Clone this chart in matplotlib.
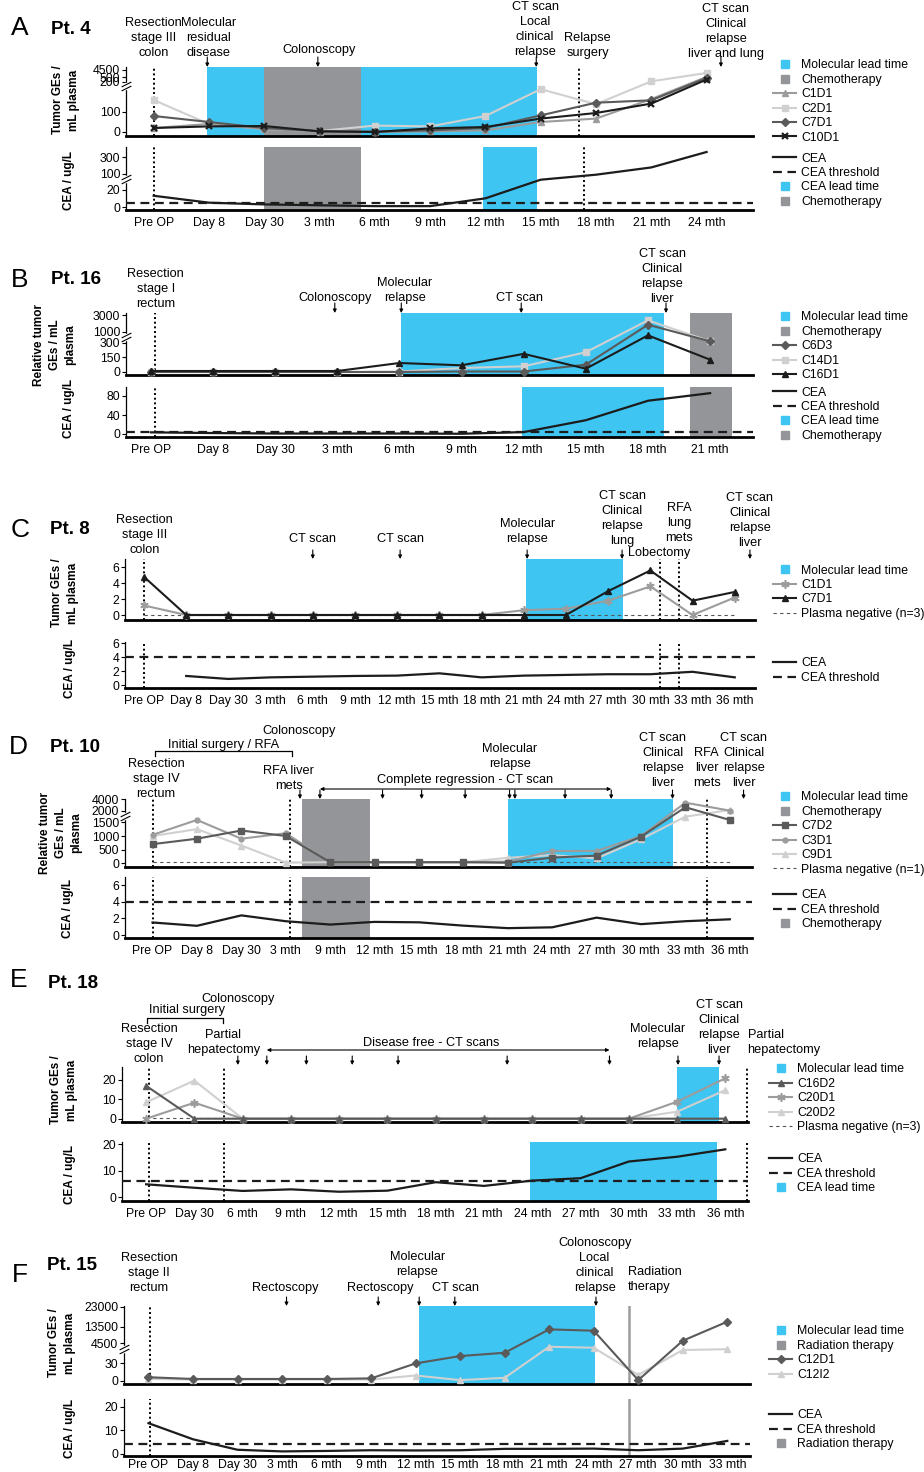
import numpy as np
import matplotlib
matplotlib.use('Agg')
import matplotlib.pyplot as plt
from matplotlib.lines import Line2D
from matplotlib.transforms import blended_transform_factory, Affine2D

W, H = 924, 1472
BLUE = '#3ec5f1'
GREY = '#939598'
K = '#1c1c1c'
DARK = '#5a5a5a'
MID = '#9c9c9c'
LIGHT = '#d0d0d0'

plt.rcParams['font.family'] = ['Liberation Sans', 'DejaVu Sans']
plt.rcParams['font.size'] = 8.8

nan = np.nan

# ---------------- Pt. 4 ----------------
a_labels = ['Pre OP', 'Day 8', 'Day 30', '3 mth', '6 mth', '9 mth', '12 mth',
            '15 mth', '18 mth', '21 mth', '24 mth']
a_c1d1 = [20, 40, 15, 2, 0, 3, 8, 50, 67, 143, 550]
a_c2d1 = [140, 40, 15, 5, 32, 28, 80, 176, 126, 240, 2800]
a_c7d1 = [80, 50, 20, 5, 2, 8, 20, 83, 131, 139, 450]
a_c10d1 = [20, 28, 30, 3, 0, 18, 25, 67, 95, 128, 350]
a_cea = [13, 5, 3, 2, 1, 1, 10, 70, 95, 175, 360]
a_cea_cut = 5
a_mol_lead = [0.97, 6.93]
a_chemo = [1.99, 3.75]
a_cea_lead = [5.96, 6.93]
a_events_top = [0, 7.7]
a_events_bot = [0, 7.79]

# ---------------- Pt. 16 ----------------
b_labels = ['Pre OP', 'Day 8', 'Day 30', '3 mth', '6 mth', '9 mth', '12 mth',
            '15 mth', '18 mth', '21 mth']
b_c6d3 = [0, 0, 0, 0, 0, 5, 5, 73, 1870, 390]
b_c14d1 = [0, 0, 0, 0, 5, 40, 57, 200, 2400, 390]
b_c16d1 = [10, 10, 10, 10, 90, 67, 183, 33, 780, 123]
b_cea = [3.5, 2, 1, 1, 1, 0.5, 4, 29, 70, 86]
b_cea_cut = 5
b_mol_lead = [4.03, 8.25]
b_chemo = [8.67, 9.35]
b_cea_lead = [5.97, 8.25]
b_events = [0.07]

# ---------------- Pt. 8 ----------------
c_labels = ['Pre OP', 'Day 8', 'Day 30', '3 mth', '6 mth', '9 mth', '12 mth',
            '15 mth', '18 mth', '21 mth', '24 mth', '27 mth', '30 mth',
            '33 mth', '36 mth']
c_c1d1 = [1.2, 0, 0, 0, 0, 0, 0, 0, 0, 0.6, 0.8, 1.8, 3.6, 0, 2.2]
c_c7d1 = [4.8, 0, 0, 0, 0, 0, 0, 0, 0, 0, 0, 3.0, 5.6, 1.8, 2.9]
c_cea = [nan, 1.3, 0.87, 1.1, 1.2, 1.3, 1.35, 1.68, 1.1, 1.35, 1.45, 1.55,
         1.55, 1.9, 1.1]
c_cea_cut = 4
c_negative = 0
c_mol_lead = [9.06, 11.34]
c_events = [0, 12.23, 12.68]

# ---------------- Pt. 10 ----------------
d_labels = ['Pre OP', 'Day 8', 'Day 30', '3 mth', '9 mth', '12 mth', '15 mth',
            '18 mth', '21 mth', '24 mth', '27 mth', '30 mth', '33 mth',
            '36 mth']
d_c7d2 = [700, 900, 1200, 1000, 40, 40, 40, 40, 20, 208, 280, 975, 2590, 1600]
d_c3d1 = [1040, 1600, 900, 1100, 40, 40, 40, 40, 60, 450, 450, 1000, 3400,
          2000]
d_c9d1 = [1000, 1250, 650, 25, 40, 40, 40, 40, 200, 300, 180, 880, 1740, 2100]
d_cea = [1.5, 1.1, 2.35, 1.65, 1.25, 1.57, 1.52, 1.12, 0.82, 0.92, 2.08, 1.3,
         1.65, 1.88]
d_cea_cut = 4
d_negative = 40
d_mol_lead = [8.0, 11.72]
d_chemo = [3.36, 4.9]
d_events = [0, 3.1, 12.48]

# ---------------- Pt. 18 ----------------
e_labels = ['Pre OP', 'Day 30', '6 mth', '9 mth', '12 mth', '15 mth', '18 mth',
            '21 mth', '24 mth', '27 mth', '30 mth', '33 mth', '36 mth']
e_c16d2 = [17, 0, 0, 0, 0, 0, 0, 0, 0, 0, 0, 0, 0]
e_c20d1 = [0, 8.3, 0, 0, 0, 0, 0, 0, 0, 0, 0, 8.8, 20.9]
e_c20d2 = [8.5, 19.7, 0, 0, 0, 0, 0, 0, 0, 0, 0, 3.6, 14.8]
e_cea = [4.9, 3.6, 2.4, 3.0, 2.1, 2.5, 5.7, 4.3, 6.3, 7.2, 13.5, 15.3, 18.1]
e_cea_cut = 6
e_negative = 0.5
e_mol_lead = [11.0, 11.87]
e_cea_lead = [7.96, 11.82]
e_events = [0.05, 1.61, 12.45]

# ---------------- Pt. 15 ----------------
f_labels = ['Pre OP', 'Day 8', 'Day 30', '3 mth', '6 mth', '9 mth', '12 mth',
            '15 mth', '18 mth', '21 mth', '24 mth', '27 mth', '30 mth',
            '33 mth']
f_c12d1 = [6, 3, 3, 3, 3, 4, 30, 1670, 2410, 12060, 11340, 1, 5950, 15875]
f_c12i2 = [3, 2, 2, 2, 2, 2, 9, 1, 5, 3755, 3530, 10, 3025, 3200]
f_cea = [13, 6.1, 1.6, 0.9, 1.1, 1.4, 1.3, 1.4, 2.0, 2.0, 2.1, 1.4, 2.1, 5.4]
f_cea_cut = 4
f_mol_lead = [6.07, 10.02]
f_radiation = 10.79
f_events = [0.03]

fig = plt.figure(figsize=(W / 100, H / 100), dpi=100)


def piecewise(xp, fp):
    xp = np.asarray(xp, float)
    fp = np.asarray(fp, float)

    def go(v, a, b):
        v = np.asarray(v, float)
        out = np.interp(v, a, b)
        s0 = (b[1] - b[0]) / (a[1] - a[0])
        s1 = (b[-1] - b[-2]) / (a[-1] - a[-2])
        out = np.where(v < a[0], b[0] + (v - a[0]) * s0, out)
        out = np.where(v > a[-1], b[-1] + (v - a[-1]) * s1, out)
        return out

    return (lambda v: go(v, xp, fp)), (lambda v: go(v, fp, xp))


def frame(box, zero, ticks, pix, xlim, labels=None, brk=None, pad=5):
    l, t, r, b = box
    ax = fig.add_axes([l / W, 1 - b / H, (r - l) / W, (b - t) / H])
    fwd, inv = piecewise(ticks, pix)
    ax.set_yscale('function', functions=(fwd, inv))
    ax.set_ylim(float(inv(zero - b)), float(inv(zero - t)))
    ax.set_xlim(*xlim)
    ax.set_yticks(ticks, [str(v) for v in ticks])
    ax.yaxis.set_minor_locator(plt.NullLocator())
    for s in ('top', 'right'):
        ax.spines[s].set_visible(False)
    ax.spines['bottom'].set_linewidth(2.0)
    ax.spines['left'].set_linewidth(0.9)
    ax.tick_params(axis='y', length=3, width=0.8, pad=1.2, labelsize=8.8)
    ax.tick_params(axis='x', length=0, pad=pad, labelsize=8.8)
    if labels is None:
        ax.set_xticks([])
    else:
        ax.set_xticks(range(len(labels)), labels)
    if brk is not None:
        tr = ax.get_yaxis_transform()
        v1, v2 = float(inv(brk - 1.7)), float(inv(brk + 1.7))
        ax.plot([0, 0], [v1, v2], color='white', lw=2.5, transform=tr,
                clip_on=False, zorder=6)
        ax.plot([0, 0], [v1, v2], ls='none', marker=[(-1, -0.5), (1, 0.5)],
                ms=7, mew=0.8, color='k', transform=tr, clip_on=False,
                zorder=7)
    return ax


def tpx(ax):
    return blended_transform_factory(ax.transData,
                                     Affine2D().scale(1, -1).translate(0, H))


def note(ax, s, x, yc, ha='center'):
    ax.text(x, yc + 7, s, transform=tpx(ax), ha=ha, va='bottom', fontsize=9.2,
            linespacing=1.35, clip_on=False)


def down(ax, xs, y0, y1):
    T = tpx(ax)
    for x in xs:
        ax.annotate('', xy=(x, y1), xytext=(x, y0), xycoords=T, textcoords=T,
                    arrowprops=dict(arrowstyle='-|>', color='k', lw=0.8,
                                    mutation_scale=5, shrinkA=0, shrinkB=0),
                    annotation_clip=False)


def both(ax, x0, x1, y):
    T = tpx(ax)
    ax.annotate('', xy=(x1, y), xytext=(x0, y), xycoords=T, textcoords=T,
                arrowprops=dict(arrowstyle='<|-|>', color='k', lw=0.8,
                                mutation_scale=5, shrinkA=0, shrinkB=0),
                annotation_clip=False)


def bracket(ax, x0, x1, y, drop=5):
    ax.plot([x0, x0, x1, x1], [y + drop, y, y, y + drop], transform=tpx(ax),
            color='k', lw=0.9, clip_on=False)


def span(ax, x, color):
    ax.axvspan(x[0], x[1], color=color, lw=0, zorder=0.5)


def marks(ax, xs):
    for x in xs:
        ax.axvline(x, color='k', lw=1.4, ls=(0, (1, 1.4)), zorder=2)


def series(ax, vals, color, marker, ms=4.5, lw=1.5, z=3):
    return ax.plot(range(len(vals)), vals, color=color, marker=marker, ms=ms,
                   lw=lw, zorder=z, clip_on=False)[0]


def cea(ax, vals, cut):
    h1 = ax.plot(range(len(vals)), vals, color=K, lw=1.6, zorder=3)[0]
    h2 = ax.axhline(cut, color=K, lw=1.6, ls=(0, (4, 2.5)), zorder=3)
    return h1, h2


def negative(ax, n, level):
    return ax.plot([0, n - 1], [level, level], color='#555555', lw=0.8,
                   ls=(0, (3, 3)), zorder=2.5)[0]


def sq(c):
    return Line2D([], [], ls='none', marker='s', ms=5.5, color=c)


def key(ax, handles, labels, x, yc):
    ax.legend(handles, labels, loc='upper left',
              bbox_to_anchor=(x / W, 1 - (yc - 3.5) / H),
              bbox_transform=fig.transFigure, frameon=False, fontsize=8.8,
              handlelength=1.9, handletextpad=0.4, labelspacing=0.2,
              borderpad=0, borderaxespad=0)


def heading(letter, pt, lx, ly, px, py):
    fig.text(lx / W, 1 - ly / H, letter, fontsize=19, ha='center', va='center')
    fig.text(px / W, 1 - py / H, pt, fontsize=13.5, weight='bold', ha='left',
             va='center')


def ylab(s, x, y, pitch=15.5):
    lines = s.split('\n')
    n = len(lines)
    for i, line in enumerate(lines):
        xi = x + (i - (n - 1) / 2) * pitch
        fig.text(xi / W, 1 - y / H, line, rotation=90, ha='center',
                 va='center', fontsize=8.5, weight='bold')


# ================= A =================
heading('A', 'Pt. 4', 20, 28, 51, 29)
ax = frame((126, 67, 753, 136), 132, [0, 100, 200, 500, 4500],
           [0, 20, 50, 55, 62], (-0.5, 10.84), brk=46)
span(ax, a_mol_lead, BLUE)
span(ax, a_chemo, GREY)
marks(ax, a_events_top)
h3 = series(ax, a_c2d1, LIGHT, 's')
h1 = series(ax, a_c1d1, MID, '^')
h4 = series(ax, a_c7d1, DARK, 'D', ms=4)
h5 = series(ax, a_c10d1, K, 'x', ms=5)
h5.set_markeredgewidth(1.6)
key(ax, [sq(BLUE), sq(GREY), h1, h3, h4, h5],
    ['Molecular lead time', 'Chemotherapy', 'C1D1', 'C2D1', 'C7D1', 'C10D1'],
    773, 63)
note(ax, 'Resection\nstage III\ncolon', 0, 52)
note(ax, 'Molecular\nresidual\ndisease', 1.0, 52)
note(ax, 'Colonoscopy', 3.0, 49)
note(ax, 'CT scan\nLocal\nclinical\nrelapse', 6.9, 51)
note(ax, 'Relapse\nsurgery', 7.85, 52)
note(ax, 'CT scan\nClinical\nrelapse\nliver and lung', 10.35, 53)
down(ax, [0.97, 2.97, 6.92, 10.26], 57, 67)
ylab('Tumor GEs /\nmL plasma', 66, 100)

ax = frame((126, 147, 753, 210), 207, [0, 20, 100, 300], [0, 17.3, 33.3, 50],
           (-0.5, 10.84), labels=a_labels, brk=28)
span(ax, a_chemo, GREY)
span(ax, a_cea_lead, BLUE)
marks(ax, a_events_bot)
c1, c2 = cea(ax, a_cea, a_cea_cut)
key(ax, [c1, c2, sq(BLUE), sq(GREY)],
    ['CEA', 'CEA threshold', 'CEA lead time', 'Chemotherapy'], 773, 156)
ylab('CEA / ug/L', 69, 180)

# ================= B =================
heading('B', 'Pt. 16', 20, 280, 51, 280)
ax = frame((126, 313, 753, 375), 372, [0, 150, 300, 1000, 3000],
           [0, 15, 29.3, 40, 56.7], (-0.40, 9.69), brk=35)
span(ax, b_mol_lead, BLUE)
span(ax, b_chemo, GREY)
marks(ax, b_events)
h2 = series(ax, b_c14d1, LIGHT, 's')
h1 = series(ax, b_c6d3, DARK, 'D', ms=4)
h3 = series(ax, b_c16d1, K, '^')
key(ax, [sq(BLUE), sq(GREY), h1, h2, h3],
    ['Molecular lead time', 'Chemotherapy', 'C6D3', 'C14D1', 'C16D1'],
    773, 315)
note(ax, 'Resection\nstage I\nrectum', 0.08, 303)
note(ax, 'Colonoscopy', 2.96, 297)
note(ax, 'Molecular\nrelapse', 4.09, 297)
note(ax, 'CT scan', 5.93, 297)
note(ax, 'CT scan\nClinical\nrelapse\nliver', 8.23, 298)
down(ax, [2.96, 4.03, 5.96, 8.29], 303, 313)
ylab('Relative tumor\nGEs / mL\nplasma', 55, 345)

ax = frame((126, 387, 753, 437), 434, [0, 40, 80], [0, 19, 38],
           (-0.40, 9.69), labels=b_labels)
span(ax, b_cea_lead, BLUE)
span(ax, b_chemo, GREY)
marks(ax, b_events)
c1, c2 = cea(ax, b_cea, b_cea_cut)
key(ax, [c1, c2, sq(BLUE), sq(GREY)],
    ['CEA', 'CEA threshold', 'CEA lead time', 'Chemotherapy'], 773, 390)
ylab('CEA / ug/L', 69, 408)

# ================= C =================
heading('C', 'Pt. 8', 20, 530, 50, 530)
ax = frame((125, 559, 755, 620), 615, [0, 2, 4, 6], [0, 15.9, 31.8, 47.7],
           (-0.45, 14.48))
span(ax, c_mol_lead, BLUE)
marks(ax, c_events)
n1 = negative(ax, len(c_labels), c_negative)
h1 = series(ax, c_c1d1, MID, (6, 2, 0), ms=6)
h1.set_markeredgewidth(1.2)
h2 = series(ax, c_c7d1, K, '^')
key(ax, [sq(BLUE), h1, h2, n1],
    ['Molecular lead time', 'C1D1', 'C7D1', 'Plasma negative (n=3)'], 773, 568)
note(ax, 'Resection\nstage III\ncolon', 0.02, 549)
note(ax, 'CT scan', 4.0, 538)
note(ax, 'CT scan', 6.07, 538)
note(ax, 'Molecular\nrelapse', 9.08, 538)
note(ax, 'CT scan\nClinical\nrelapse\nlung', 11.33, 540)
note(ax, 'Lobectomy', 12.2, 552)
note(ax, 'RFA\nlung\nmets', 12.68, 537)
note(ax, 'CT scan\nClinical\nrelapse\nliver', 14.36, 542)
down(ax, [4.0, 6.07, 9.08, 11.33, 14.36], 550, 559)
ylab('Tumor GEs /\nmL plasma', 65, 593)

ax = frame((125, 642, 755, 688), 685, [0, 2, 4, 6], [0, 13.9, 27.8, 41.6],
           (-0.45, 14.48), labels=c_labels)
marks(ax, c_events)
c1, c2 = cea(ax, c_cea, c_cea_cut)
key(ax, [c1, c2], ['CEA', 'CEA threshold'], 773, 661)
ylab('CEA / ug/L', 70, 668)

# ================= D =================
heading('D', 'Pt. 10', 18, 747, 50, 747)
ax = frame((125, 799, 752, 867), 863.3, [0, 500, 1000, 1500, 2000, 4000],
           [0, 13.7, 27.3, 41, 52.7, 64], (-0.62, 13.5), brk=47.5)
span(ax, d_chemo, GREY)
span(ax, d_mol_lead, BLUE)
marks(ax, d_events)
n1 = negative(ax, len(d_labels), d_negative)
h3 = series(ax, d_c9d1, LIGHT, '^')
h2 = series(ax, d_c3d1, MID, 'o', ms=3.5)
h1 = series(ax, d_c7d2, DARK, 's')
key(ax, [sq(BLUE), sq(GREY), h1, h2, h3, n1],
    ['Molecular lead time', 'Chemotherapy', 'C7D2', 'C3D1', 'C9D1',
     'Plasma negative (n=1)'], 773, 795)
note(ax, 'Colonoscopy', 3.3, 730)
note(ax, 'Initial surgery / RFA', 1.61, 744)
bracket(ax, 0.06, 3.15, 751)
note(ax, 'Resection\nstage IV\nrectum', 0.08, 793)
note(ax, 'RFA liver\nmets', 3.07, 785)
note(ax, 'Molecular\nrelapse', 8.05, 763)
note(ax, 'Complete regression - CT scan', 7.04, 779)
both(ax, 3.77, 10.33, 789)
down(ax, [3.32, 3.77, 5.18, 6.06, 7.04, 8.04, 8.16, 9.29, 10.33, 11.71, 13.31],
     790, 799)
note(ax, 'CT scan\nClinical\nrelapse\nliver', 11.49, 782)
note(ax, 'RFA\nliver\nmets', 12.48, 782)
note(ax, 'CT scan\nClinical\nrelapse\nliver', 13.31, 782)
ylab('Relative tumor\nGEs / mL\nplasma', 61, 833)

ax = frame((125, 877, 752, 938), 935, [0, 2, 4, 6], [0, 16.7, 33.3, 50],
           (-0.62, 13.5), labels=d_labels)
span(ax, d_chemo, GREY)
marks(ax, d_events)
c1, c2 = cea(ax, d_cea, d_cea_cut)
key(ax, [c1, c2, sq(GREY)], ['CEA', 'CEA threshold', 'Chemotherapy'],
    773, 893)
ylab('CEA / ug/L', 68, 908)

# ================= E =================
heading('E', 'Pt. 18', 19, 980, 48, 983)
ax = frame((122, 1067, 748, 1122), 1118.7, [0, 10, 20], [0, 19.3, 38.7],
           (-0.5, 12.47))
span(ax, e_mol_lead, BLUE)
marks(ax, e_events)
n1 = negative(ax, len(e_labels), e_negative)
h3 = series(ax, e_c20d2, LIGHT, '^')
h2 = series(ax, e_c20d1, MID, (6, 2, 0), ms=6)
h2.set_markeredgewidth(1.2)
h1 = series(ax, e_c16d2, DARK, '^', ms=4)
key(ax, [sq(BLUE), h1, h2, h3, n1],
    ['Molecular lead time', 'C16D2', 'C20D1', 'C20D2', 'Plasma negative (n=3)'],
    769, 1067)
note(ax, 'Colonoscopy', 1.9, 998)
note(ax, 'Initial surgery', 0.84, 1009)
bracket(ax, 0.01, 1.59, 1018)
note(ax, 'Resection\nstage IV\ncolon', 0.06, 1058)
note(ax, 'Partial\nhepatectomy', 1.6, 1049)
note(ax, 'Disease free - CT scans', 5.9, 1042)
both(ax, 2.5, 9.6, 1050)
down(ax, [1.9, 2.5, 3.32, 4.27, 5.22, 7.48, 9.6, 11.02, 11.87], 1056, 1065)
note(ax, 'Molecular\nrelapse', 10.6, 1043)
note(ax, 'CT scan\nClinical\nrelapse\nliver', 11.87, 1049)
note(ax, 'Partial\nhepatectomy', 12.46, 1049, ha='left')
ylab('Tumor GEs /\nmL plasma', 64, 1090)

ax = frame((122, 1142, 748, 1201), 1197.3, [0, 10, 20], [0, 26.5, 53],
           (-0.5, 12.47), labels=e_labels)
span(ax, e_cea_lead, BLUE)
marks(ax, e_events)
c1, c2 = cea(ax, e_cea, e_cea_cut)
key(ax, [c1, c2, sq(BLUE)], ['CEA', 'CEA threshold', 'CEA lead time'],
    769, 1157)
ylab('CEA / ug/L', 70, 1175)

# ================= F =================
heading('F', 'Pt. 15', 20, 1275, 47, 1265)
ax = frame((124, 1306, 750, 1384), 1380.7, [0, 30, 4500, 13500, 23000],
           [0, 17.3, 37.3, 54, 74], (-0.55, 13.51), brk=31.7)
span(ax, f_mol_lead, BLUE)
marks(ax, f_events)
ax.axvline(f_radiation, color=MID, lw=1.8, zorder=2)
h2 = series(ax, f_c12i2, LIGHT, '^')
h1 = series(ax, f_c12d1, DARK, 'D', ms=4)
key(ax, [sq(BLUE), sq(GREY), h1, h2],
    ['Molecular lead time', 'Radiation therapy', 'C12D1', 'C12I2'], 769, 1329)
note(ax, 'Resection\nstage II\nrectum', 0.01, 1287)
note(ax, 'Rectoscopy', 3.07, 1287)
note(ax, 'Rectoscopy', 5.2, 1287)
note(ax, 'Molecular\nrelapse', 6.04, 1271)
note(ax, 'CT scan', 6.9, 1287)
note(ax, 'Colonoscopy\nLocal\nclinical\nrelapse', 10.02, 1287)
note(ax, 'Radiation\ntherapy', 10.77, 1286, ha='left')
down(ax, [3.1, 5.16, 6.08, 6.88, 10.05], 1297, 1306)
ylab('Tumor GEs /\nmL plasma', 62, 1343)

ax = frame((124, 1399, 750, 1456), 1453.5, [0, 10, 20], [0, 23.3, 46.7],
           (-0.55, 13.51), labels=f_labels, pad=2)
marks(ax, f_events)
ax.axvline(f_radiation, color=MID, lw=1.8, zorder=2)
c1, c2 = cea(ax, f_cea, f_cea_cut)
key(ax, [c1, c2, sq(GREY)], ['CEA', 'CEA threshold', 'Radiation therapy'],
    769, 1413)
ylab('CEA / ug/L', 70, 1428)

fig.savefig('out.png', dpi=100)
